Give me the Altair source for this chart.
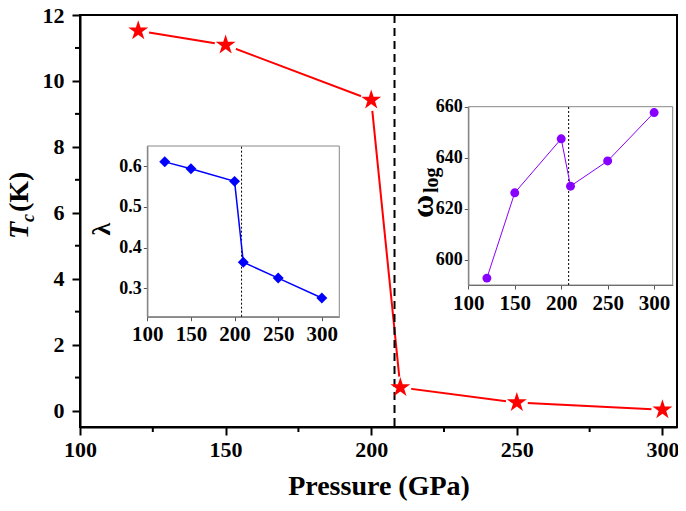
import altair as alt
import pandas as pd

# ---- data ----
pressure = [120, 150, 200, 210, 250, 300]
tc = [11.52, 11.09, 9.42, 0.70, 0.24, 0.02]
lam = [0.611, 0.594, 0.563, 0.364, 0.325, 0.276]
wlog = [592.7, 626.2, 647.4, 628.8, 638.7, 657.7]
transition = [208]
x_ticks = [100, 150, 200, 250, 300]
y_ticks = [0, 2, 4, 6, 8, 10, 12]
minor_x = [125, 175, 225, 275]
minor_y = [1, 3, 5, 7, 9, 11]
lam_ticks = [0.3, 0.4, 0.5, 0.6]
w_ticks = [600, 620, 640, 660]

FONT = "Times New Roman, Liberation Serif, DejaVu Serif, serif"
W, H = 597, 412
STAR = ("M0,-1L0.2245,-0.309L0.9511,-0.309L0.3633,0.118L0.5878,0.809L0,0.382"
        "L-0.5878,0.809L-0.3633,0.118L-0.9511,-0.309L-0.2245,-0.309Z")

df = pd.DataFrame({"P": pressure, "Tc": tc, "lam": lam, "w": wlog})
tdf = pd.DataFrame({"t": transition})

# ---------------- main panel ----------------
xs = alt.Scale(domain=[100, 305], nice=False, zero=False)
ys = alt.Scale(domain=[-0.5, 12], nice=False, zero=False)
x_axis = alt.Axis(orient="bottom", values=x_ticks, title="Pressure (GPa)", grid=False,
                  labelFont=FONT, labelFontSize=22, labelFontWeight="bold",
                  titleFont=FONT, titleFontSize=28, titleFontWeight="bold",
                  tickSize=8, tickWidth=2, domainWidth=2, domainColor="black",
                  tickColor="black", labelColor="black", titleColor="black",
                  labelPadding=4, titlePadding=12, labelOverlap=False, labelFlush=False)
y_axis = alt.Axis(orient="left", values=y_ticks, title=None, grid=False,
                  labelFont=FONT, labelFontSize=22, labelFontWeight="bold",
                  tickSize=8, tickWidth=2, domainWidth=2, domainColor="black",
                  tickColor="black", labelColor="black", labelPadding=8,
                  labelOverlap=False, labelFlush=False)

base = alt.Chart(df)
line = base.mark_line(color="#ff0000", strokeWidth=2).encode(
    x=alt.X("P:Q", scale=xs, axis=x_axis), y=alt.Y("Tc:Q", scale=ys, axis=y_axis))
halo = base.mark_point(shape="circle", filled=True, color="white", size=484, opacity=1).encode(
    x=alt.X("P:Q", scale=xs, axis=None), y=alt.Y("Tc:Q", scale=ys, axis=None))
vline = alt.Chart(tdf).mark_rule(color="black", strokeWidth=2, strokeDash=[8, 5]).encode(
    x=alt.X("t:Q", scale=xs, axis=None))
stars = base.mark_point(shape=STAR, filled=True, color="#ff0000", size=440, opacity=1).encode(
    x=alt.X("P:Q", scale=xs, axis=None), y=alt.Y("Tc:Q", scale=ys, axis=None))
mx = alt.Chart(pd.DataFrame({"m": minor_x})).mark_rule(color="black", strokeWidth=2).encode(
    x=alt.X("m:Q", scale=xs, axis=None), y=alt.value(H), y2=alt.value(H + 5))
my = alt.Chart(pd.DataFrame({"m": minor_y})).mark_rule(color="black", strokeWidth=2).encode(
    y=alt.Y("m:Q", scale=ys, axis=None), x=alt.value(-5), x2=alt.value(0))


def label(txt, x, y, size, style="normal", align="left", angle=270):
    return alt.Chart(pd.DataFrame({"s": [txt]})).mark_text(
        font=FONT, fontSize=size, fontWeight="bold", fontStyle=style, angle=angle,
        align=align, baseline="alphabetic", color="black").encode(
        text="s:N", x=alt.value(x), y=alt.value(y))


def inset_axes(offx, offy, yvals, fmt):
    common = dict(title=None, grid=False, labelFont=FONT, labelFontWeight="bold",
                  labelColor="black", tickSize=4, tickColor="#555", domainColor="#555",
                  domainWidth=1, labelOverlap=False, labelFlush=False)
    ax = alt.Axis(orient="bottom", offset=offx, values=x_ticks, labelFontSize=21,
                  labelPadding=3, **common)
    ay = alt.Axis(orient="left", offset=offy, values=yvals, format=fmt, labelFontSize=18,
                  labelPadding=2, **common)
    return ax, ay


# ---------------- inset 1 : lambda ----------------
xs1 = alt.Scale(domain=[100, 320], range=[67.3, 259.3], nice=False, zero=False)
ys1 = alt.Scale(domain=[0.23, 0.65], range=[301.7, 131], nice=False, zero=False)
ax1, ay1 = inset_axes(-(H - 301.7), -67.3, lam_ticks, ".1f")
b1 = alt.Chart(df)
dot1 = alt.Chart(tdf).mark_rule(color="black", strokeWidth=1, strokeDash=[2, 2]).encode(
    x=alt.X("t:Q", scale=xs1, axis=None),
    y=alt.Y(datum=0.23, scale=ys1, axis=None), y2=alt.datum(0.65))
frame1 = alt.Chart(tdf).mark_rect(filled=False, stroke="#888", strokeWidth=1).encode(
    x=alt.X(datum=100, scale=xs1, axis=None), x2=alt.datum(320),
    y=alt.Y(datum=0.23, scale=ys1, axis=None), y2=alt.datum(0.65))
line1 = b1.mark_line(color="#0000ff", strokeWidth=1.5).encode(
    x=alt.X("P:Q", scale=xs1, axis=ax1), y=alt.Y("lam:Q", scale=ys1, axis=ay1))
pts1 = b1.mark_point(shape="diamond", filled=True, color="#0000ff", size=120, opacity=1).encode(
    x=alt.X("P:Q", scale=xs1, axis=None), y=alt.Y("lam:Q", scale=ys1, axis=None))

# ---------------- inset 2 : omega_log ----------------
xs2 = alt.Scale(domain=[100, 320], range=[388.3, 592.7], nice=False, zero=False)
ys2 = alt.Scale(domain=[590, 660], range=[270, 91.7], nice=False, zero=False)
ax2, ay2 = inset_axes(-(H - 270), -388.3, w_ticks, "d")
b2 = alt.Chart(df)
dot2 = alt.Chart(tdf).mark_rule(color="black", strokeWidth=1, strokeDash=[2, 2]).encode(
    x=alt.X("t:Q", scale=xs2, axis=None),
    y=alt.Y(datum=590, scale=ys2, axis=None), y2=alt.datum(660))
frame2 = alt.Chart(tdf).mark_rect(filled=False, stroke="#888", strokeWidth=1).encode(
    x=alt.X(datum=100, scale=xs2, axis=None), x2=alt.datum(320),
    y=alt.Y(datum=590, scale=ys2, axis=None), y2=alt.datum(660))
line2 = b2.mark_line(color="#8800ff", strokeWidth=1).encode(
    x=alt.X("P:Q", scale=xs2, axis=ax2), y=alt.Y("w:Q", scale=ys2, axis=ay2))
pts2 = b2.mark_point(shape="circle", filled=True, color="#8800ff", size=80, opacity=1).encode(
    x=alt.X("P:Q", scale=xs2, axis=None), y=alt.Y("w:Q", scale=ys2, axis=None))

texts = [label("T", -52, 224, 28, "italic"),
         label("c", -46, 207, 18, "italic"),
         label("(K)", -52, 197, 28),
         label("λ", 30, 214, 26, align="center"),
         label("ω", 353, 203, 32),
         label("log", 358, 178, 20)]

chart = alt.layer(
    line, halo, vline, stars, mx, my,
    frame1, dot1, line1, pts1,
    frame2, dot2, line2, pts2,
    *texts
).resolve_scale(
    x="independent", y="independent"
).properties(
    width=W, height=H,
    autosize=alt.AutoSizeParams(type="none"),
    padding={"left": 72, "top": 7, "right": 1, "bottom": 76},
).configure_view(stroke="black", strokeWidth=2)

chart.save("out.html", embed_options={"renderer": "svg", "actions": False})
